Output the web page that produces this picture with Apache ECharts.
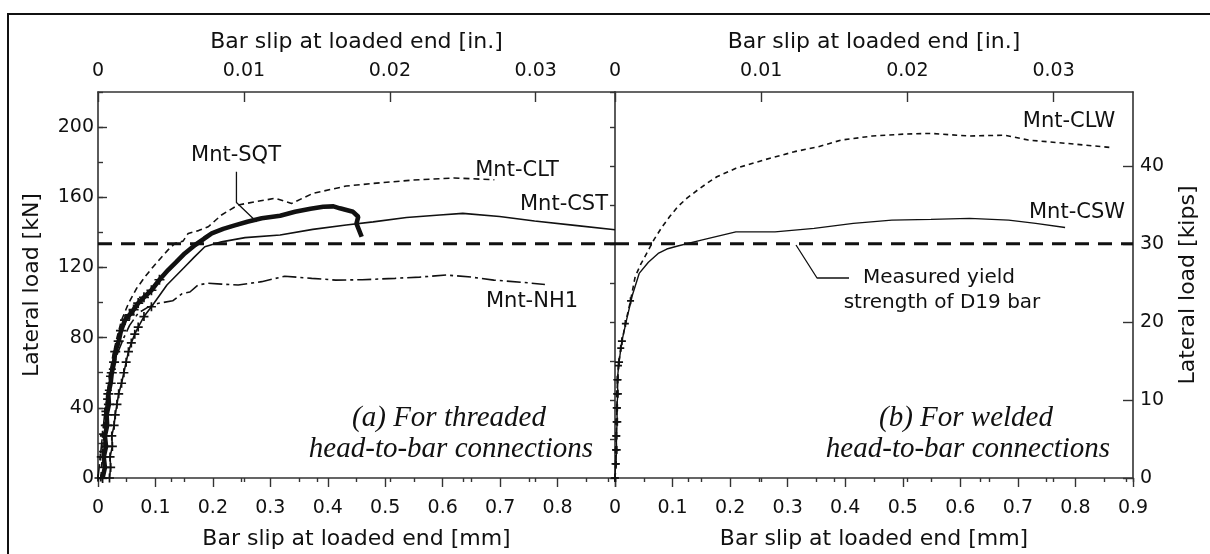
<!DOCTYPE html>
<html><head><meta charset="utf-8">
<script src="https://cdn.jsdelivr.net/npm/echarts@6/dist/echarts.min.js"></script>
<style>html,body{margin:0;padding:0;background:#fff}#c{width:1210px;height:554px}</style>
</head><body><div id="c"></div>
<script>
// ---- data (x: bar slip in mm, y: lateral load in kN) ----
const SQT_X = [0.008,0.012,0.010,0.014,0.012,0.016,0.015,0.019,0.018,0.022,0.024,0.028,0.030,0.036,0.040,0.047,0.055,0.062,0.070,0.080,0.093,0.107,0.122,0.136,0.151,0.169,0.185,0.198,0.218,0.238,0.260,0.285,0.317,0.343,0.370,0.392,0.410,0.421,0.444,0.453,0.450,0.459];
const SQT_Y = [0,6,12,18,24,30,36,42,48,54,60,66,72,78,84,90,93,96,99.7,103,107,113,118.5,123,128,132.8,136.5,139.4,142,144,146,148,149.5,151.7,153.5,154.6,154.8,153.7,151.7,148.9,145,137.5];
const CST_X = [0.020,0.022,0.021,0.025,0.024,0.028,0.030,0.033,0.036,0.041,0.045,0.049,0.053,0.058,0.064,0.070,0.080,0.093,0.107,0.120,0.135,0.150,0.168,0.186,0.215,0.256,0.317,0.374,0.432,0.479,0.537,0.595,0.635,0.699,0.760,0.830,0.900];
const CST_Y = [0,6,12,18,24,30,36,42,48,54,60,66,72,77,82,86,92,97.6,104,110,115,120,126,131.8,134.6,137,138.5,141.7,144.2,146,148.5,149.9,150.8,149,146.5,144,141.5];
const CLT_X = [0.005,0.008,0.011,0.015,0.020,0.026,0.033,0.041,0.053,0.067,0.082,0.095,0.111,0.122,0.134,0.148,0.157,0.175,0.192,0.215,0.244,0.273,0.308,0.337,0.374,0.432,0.479,0.548,0.620,0.690];
const CLT_Y = [0,15,30,45,58,70,80,90,99.5,108,114.7,120,126,130,133.7,135,139.4,141,143.2,149.9,155.6,157.4,159.4,156.5,162.2,166.4,167.9,169.8,171,170];
const NH1_X = [0,0.004,0.008,0.012,0.018,0.025,0.035,0.045,0.055,0.070,0.085,0.104,0.130,0.146,0.160,0.174,0.192,0.215,0.244,0.285,0.325,0.372,0.414,0.460,0.517,0.560,0.606,0.650,0.689,0.740,0.778];
const NH1_Y = [0,12,25,38,50,62,72,80,87,94,97,99.5,101,105,106,110,111,110.5,110,111.9,115,113.8,112.8,113,113.8,114.5,115.7,114.5,112.8,111.5,110.3];
const CLW_X = [0,0.002,0.001,0.003,0.002,0.004,0.003,0.005,0.006,0.010,0.018,0.027,0.035,0.045,0.055,0.068,0.082,0.095,0.109,0.125,0.143,0.160,0.177,0.210,0.258,0.312,0.353,0.393,0.447,0.501,0.549,0.616,0.677,0.718,0.785,0.860];
const CLW_Y = [0,8,16,24,32,40,48,56,64,74,88,101,114.7,122,128,136,143.2,149,154.6,159.5,164,168,171.7,176.5,181.2,186,188.8,192.6,194.9,196,196.4,194.9,195.4,192.6,190.7,188.4];
const CSW_X = [0,0.001,0.003,0.002,0.004,0.003,0.005,0.004,0.007,0.012,0.020,0.030,0.042,0.058,0.075,0.090,0.109,0.150,0.210,0.278,0.346,0.414,0.481,0.549,0.616,0.684,0.731,0.782];
const CSW_Y = [0,8,16,24,32,40,48,56,66,78,90,104,116.6,123,128,130.5,132.2,135.6,140.3,140.3,142.3,145.1,147,147.4,148,147,145.1,142.8];
const YIELD_KN = 133.5;
const SLIP_RANGE_MM = [0, 0.9];
const LOAD_RANGE_KN = [0, 220];
// annotation leader lines (data units)
const SQT_LEADER_X = [0.241, 0.241, 0.276];
const SQT_LEADER_Y = [174.5, 157, 146];
const D19_LEADER_X = [0.3145, 0.351, 0.4066];
const D19_LEADER_Y = [132.8, 114, 114];
// tick steps
const MM_STEP = 0.1, IN_STEP = 0.01, IN_MINOR = 0.005, KN_STEP = 40, KN_MINOR = 20, KIP_STEP = 10, KIP_MINOR = 5;
const MM_PER_IN = 25.4, KN_PER_KIP = 4.448;

const zip = (xs, ys) => xs.map((x, i) => [x, ys[i]]);
const FONT = 'DejaVu Sans';
const INK = '#111';
const AX = '#333';
const CROSS = 'path://M0,5L10,5M5,0L5,10';

const inMax = SLIP_RANGE_MM[1] / MM_PER_IN;
const kipMax = LOAD_RANGE_KN[1] / KN_PER_KIP;
const near = (v, s) => Math.abs(v / s - Math.round(v / s)) < 1e-6;

function mmAxis(grid, hideMax) {
  return {
    type: 'value', gridIndex: grid, position: 'bottom',
    min: SLIP_RANGE_MM[0], max: SLIP_RANGE_MM[1], interval: MM_STEP,
    axisLine: { show: true, onZero: false, lineStyle: { color: AX, width: 1.6 } },
    axisTick: { show: true, inside: false, length: 9, lineStyle: { color: AX, width: 1.4 } },
    minorTick: { show: true, splitNumber: 2, length: 4, lineStyle: { color: AX, width: 1.4 } },
    splitLine: { show: false }, minorSplitLine: { show: false },
    axisLabel: { show: true, margin: 21, showMaxLabel: !hideMax, showMinLabel: true, hideOverlap: false,
      fontFamily: FONT, fontSize: 19, color: INK,
      formatter: v => v === 0 ? '0' : (+v).toFixed(1) },
    name: 'Bar slip at loaded end [mm]', nameLocation: 'middle', nameGap: 50,
    nameTextStyle: { fontFamily: FONT, fontSize: 22, color: INK }
  };
}
function inAxis(grid) {
  return {
    type: 'value', gridIndex: grid, position: 'top',
    min: 0, max: inMax, interval: IN_STEP,
    axisLine: { show: true, onZero: false, lineStyle: { color: AX, width: 1.6 } },
    axisTick: { show: true, inside: true, length: 10, lineStyle: { color: AX, width: 1.4 } },
    splitLine: { show: false },
    axisLabel: { show: true, margin: 11, showMaxLabel: false, hideOverlap: false,
      fontFamily: FONT, fontSize: 19, color: INK,
      formatter: v => near(v, IN_STEP) ? (v === 0 ? '0' : (+v).toFixed(2)) : '' },
    name: 'Bar slip at loaded end [in.]', nameLocation: 'middle', nameGap: 39,
    nameTextStyle: { fontFamily: FONT, fontSize: 22, color: INK }
  };
}
function inMinorAxis(grid) {
  return {
    type: 'value', gridIndex: grid, position: 'top',
    min: 0, max: inMax, interval: IN_MINOR,
    axisLine: { show: false }, axisLabel: { show: false }, splitLine: { show: false },
    axisTick: { show: true, inside: true, length: 4, lineStyle: { color: AX, width: 1.4 } }
  };
}

const leftGridSeries = { xAxisIndex: 0, yAxisIndex: 0 };
const rightGridSeries = { xAxisIndex: 3, yAxisIndex: 2 };

function curve(base, name, xs, ys, lineStyle, markBelow, markSize, z) {
  return Object.assign({
    type: 'line', name, data: zip(xs, ys), z: z || 3,
    showSymbol: true, showAllSymbol: true,
    symbol: v => (v[1] < markBelow ? CROSS : 'none'),
    symbolSize: markSize,
    itemStyle: { color: INK, borderColor: INK, borderWidth: 1.7 },
    lineStyle: Object.assign({ color: INK }, lineStyle),
    silent: true, animation: false
  }, base);
}
function plain(base, name, xs, ys, lineStyle) {
  return Object.assign({
    type: 'line', name, data: zip(xs, ys), showSymbol: false, symbol: 'none',
    lineStyle: Object.assign({ color: INK }, lineStyle), silent: true, animation: false, z: 4
  }, base);
}

const textEl = (x, y, t, size, family, style) => ({
  type: 'text', x, y, silent: true,
  style: { text: t, fill: INK, fontSize: size, fontFamily: family || FONT,
    fontStyle: style || 'normal', align: 'center', verticalAlign: 'middle' }
});

const option = {
  backgroundColor: '#fff',
  animation: false,
  grid: [
    { left: 98, top: 92, width: 517, height: 386, containLabel: false, outerBoundsMode: 'none' },
    { left: 615, top: 92, width: 518, height: 386, containLabel: false, outerBoundsMode: 'none' }
  ],
  xAxis: [mmAxis(0, true), inAxis(0), inMinorAxis(0), mmAxis(1, false), inAxis(1), inMinorAxis(1)],
  yAxis: [
    { type: 'value', gridIndex: 0, position: 'left', min: LOAD_RANGE_KN[0], max: LOAD_RANGE_KN[1], interval: KN_STEP,
      axisLine: { show: true, onZero: false, lineStyle: { color: AX, width: 1.6 } },
      axisTick: { show: true, inside: true, length: 9, lineStyle: { color: AX, width: 1.4 } },
      splitLine: { show: false },
      axisLabel: { margin: 4, fontFamily: FONT, fontSize: 19, color: INK, showMaxLabel: false, hideOverlap: false,
        formatter: v => near(v, KN_STEP) ? String(Math.round(v)) : '' },
      name: 'Lateral load [kN]', nameLocation: 'middle', nameGap: 55,
      nameTextStyle: { fontFamily: FONT, fontSize: 22, color: INK } },
    { type: 'value', gridIndex: 0, position: 'left', min: LOAD_RANGE_KN[0], max: LOAD_RANGE_KN[1], interval: KN_MINOR,
      axisLine: { show: false }, axisLabel: { show: false }, splitLine: { show: false },
      axisTick: { show: true, inside: true, length: 5, lineStyle: { color: AX, width: 1.4 } } },
    { type: 'value', gridIndex: 1, position: 'left', min: LOAD_RANGE_KN[0], max: LOAD_RANGE_KN[1], interval: KN_STEP,
      axisLine: { show: true, onZero: false, lineStyle: { color: AX, width: 1.6 } },
      axisTick: { show: false }, axisLabel: { show: false }, splitLine: { show: false } },
    { type: 'value', gridIndex: 1, position: 'right', min: 0, max: kipMax, interval: KIP_STEP,
      axisLine: { show: true, onZero: false, lineStyle: { color: AX, width: 1.6 } },
      axisTick: { show: true, inside: true, length: 10, lineStyle: { color: AX, width: 1.4 } },
      splitLine: { show: false },
      axisLabel: { margin: 7, fontFamily: FONT, fontSize: 19, color: INK, showMaxLabel: false, hideOverlap: false,
        formatter: v => near(v, KIP_STEP) ? String(Math.round(v)) : '' },
      name: 'Lateral load [kips]', nameLocation: 'middle', nameGap: 44, nameRotate: 90,
      nameTextStyle: { fontFamily: FONT, fontSize: 22, color: INK } },
    { type: 'value', gridIndex: 1, position: 'right', min: 0, max: kipMax, interval: KIP_MINOR,
      axisLine: { show: false }, axisLabel: { show: false }, splitLine: { show: false },
      axisTick: { show: true, inside: true, length: 5, lineStyle: { color: AX, width: 1.4 } } }
  ],
  series: [
    curve(leftGridSeries, 'Mnt-NH1', NH1_X, NH1_Y, { width: 1.6, type: [14, 4, 3, 4] }, 70, 7, 3),
    curve(leftGridSeries, 'Mnt-CLT', CLT_X, CLT_Y, { width: 1.6, type: [6, 4] }, 60, 7, 3),
    curve(leftGridSeries, 'Mnt-CST', CST_X, CST_Y, { width: 1.6 }, 100, 9, 4),
    curve(leftGridSeries, 'Mnt-SQT', SQT_X, SQT_Y, { width: 4.6 }, 115, 10, 5),
    plain(leftGridSeries, 'yield-a', SLIP_RANGE_MM, [YIELD_KN, YIELD_KN], { width: 3, type: [14, 9] }),
    plain(leftGridSeries, 'leader-sqt', SQT_LEADER_X, SQT_LEADER_Y, { width: 1.3 }),
    curve(rightGridSeries, 'Mnt-CLW', CLW_X, CLW_Y, { width: 1.6, type: [5, 4] }, 110, 7, 3),
    curve(rightGridSeries, 'Mnt-CSW', CSW_X, CSW_Y, { width: 1.4 }, 85, 8, 4),
    plain(rightGridSeries, 'yield-b', SLIP_RANGE_MM, [YIELD_KN, YIELD_KN], { width: 3, type: [14, 9] }),
    plain(rightGridSeries, 'leader-d19', D19_LEADER_X, D19_LEADER_Y, { width: 1.3 })
  ],
  graphic: [
    { type: 'rect', silent: true, z: 100, shape: { x: 8, y: 14, width: 1230, height: 580 },
      style: { fill: 'none', stroke: '#111', lineWidth: 2 } },
    textEl(236, 156, 'Mnt-SQT', 21),
    textEl(517, 171, 'Mnt-CLT', 21),
    textEl(564, 205, 'Mnt-CST', 21),
    textEl(532, 302, 'Mnt-NH1', 21),
    textEl(1069, 122, 'Mnt-CLW', 21),
    textEl(1077, 213, 'Mnt-CSW', 21),
    textEl(939, 278, 'Measured yield', 20),
    textEl(942, 303, 'strength of D19 bar', 20),
    textEl(449, 418, '(a) For threaded', 29, 'Liberation Serif', 'italic'),
    textEl(451, 449, 'head-to-bar connections', 29, 'Liberation Serif', 'italic'),
    textEl(966, 418, '(b) For welded', 29, 'Liberation Serif', 'italic'),
    textEl(968, 449, 'head-to-bar connections', 29, 'Liberation Serif', 'italic')
  ]
};

const chart = echarts.init(document.getElementById('c'), null, { renderer: 'canvas' });
chart.setOption(option);
</script></body></html>
